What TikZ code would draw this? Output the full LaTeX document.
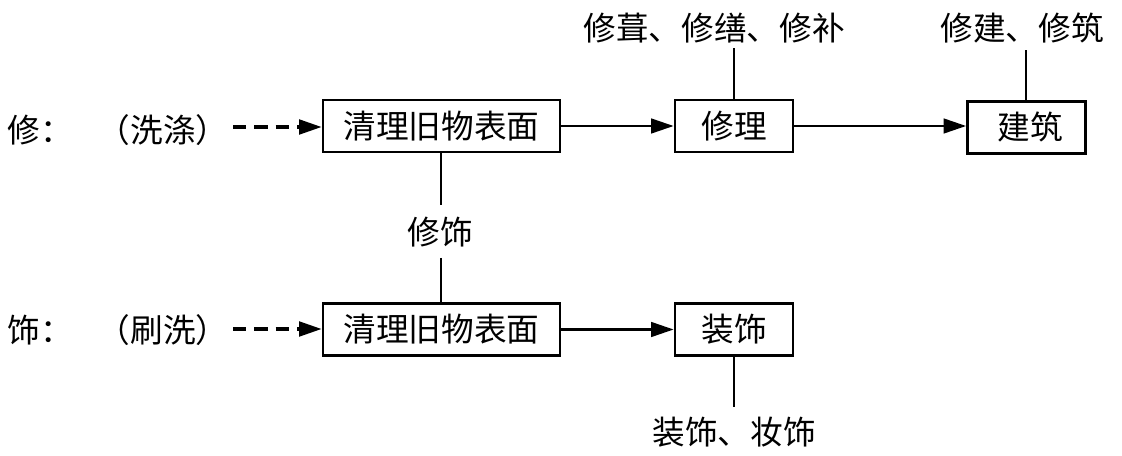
\documentclass[tikz,border=0pt]{standalone}
\usepackage{fontspec}
\newfontfamily\cjk{Noto Sans CJK SC}
\usetikzlibrary{arrows.meta}
\begin{document}
\begin{tikzpicture}[x=0.75pt,y=-0.75pt,
  txt/.style={font=\cjk\fontsize{24.5}{27}\selectfont, inner sep=0pt},
  box/.style={draw, line width=2pt, font=\cjk\fontsize{24.5}{27}\selectfont, minimum height=39pt, inner sep=0pt},
  wide/.style={box, minimum width=177.75pt},
  narrow/.style={box, minimum width=88.5pt},
  conn/.style={line width=2pt},
  arr/.style={line width=2pt, -{Triangle[length=17pt,width=11pt]}},
  darr/.style={arr, line width=2.4pt, dash pattern=on 10pt off 6pt}]
\useasboundingbox (0,0) rectangle (1122,456);
% top row
\node[txt] (xiu) at (40,130) {修：};
\node[txt] (xidi) at (163,130) {（洗涤）};
\coordinate (d1s) at (233,127);
\node[wide] (b1) at (441.5,126) {清理旧物表面};
\node[narrow] (b2) at (734,126) {修理};
\node[narrow] (b3) at (1026.5,127.5) {\hspace{6pt}建筑};
\node[txt] (l2) at (714,28) {修葺、修缮、修补};
\coordinate (l2c) at (734,48);
\node[txt] (l3) at (1022,28) {修建、修筑};
\coordinate (l3c) at (1026,50);
\draw[darr] (d1s) -- (b1.west |- d1s);
\draw[arr] (b1.east) -- (b2.west);
\draw[arr] (b2.east) -- (b3.west |- b2.east);
\draw[conn] (b2.north -| l2c) -- (l2c);
\draw[conn] (b3.north -| l3c) -- (l3c);
% middle
\node[txt] (xs) at (440,232) {修饰};
\coordinate (m1) at (441,205);
\coordinate (m2) at (441,258);
% bottom row
\node[txt] (shi) at (40,330) {饰：};
\node[txt] (shuaxi) at (163,330) {（刷洗）};
\coordinate (d2s) at (233,329);
\node[wide] (b4) at (441.5,329.5) {清理旧物表面};
\node[narrow] (b5) at (734,329.5) {装饰};
\node[txt] (l5) at (734,432) {装饰、妆饰};
\coordinate (l5c) at (734,407);
\draw[darr] (d2s) -- (b4.west |- d2s);
\draw[arr] (b4.east) -- (b5.west);
\draw[conn] (b5.south) -- (l5c);
\draw[conn] (b1.south -| m1) -- (m1);
\draw[conn] (m2) -- (b4.north -| m2);
\end{tikzpicture}
\end{document}
